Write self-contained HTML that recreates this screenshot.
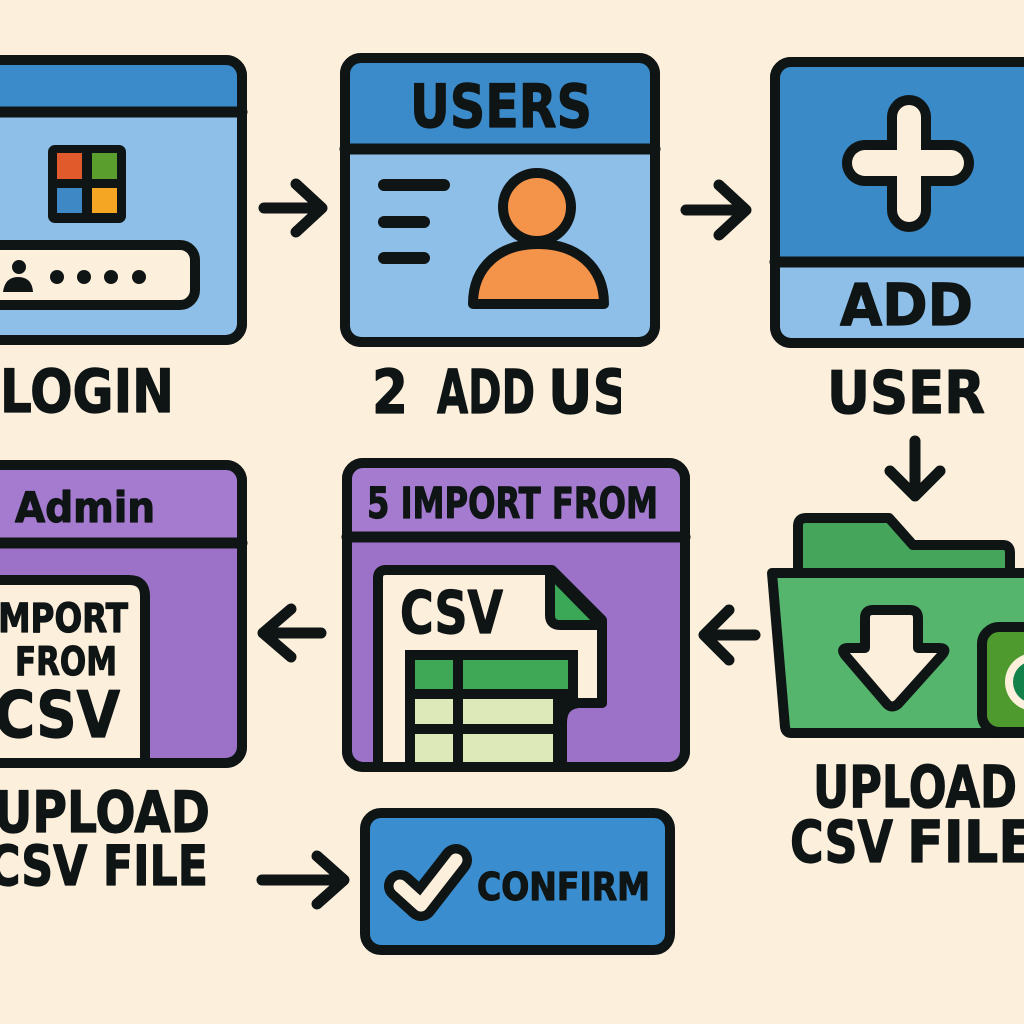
<!DOCTYPE html>
<html><head><meta charset="utf-8"><style>
html,body{margin:0;padding:0;background:#fcefdc;}
svg{display:block;}
text{font-family:"DejaVu Sans","Liberation Sans",sans-serif;font-weight:bold;fill:#0f1515;stroke:#0f1515;stroke-width:1.2;stroke-linejoin:round;}
</style></head><body>
<svg width="1024" height="1024" viewBox="0 0 1024 1024" xmlns="http://www.w3.org/2000/svg">
<defs>
<clipPath id="c2"><rect x="0" y="0" width="621" height="1024"/></clipPath>
<clipPath id="p5"><rect x="347" y="463" width="338" height="304" rx="16"/></clipPath>
<clipPath id="p4"><rect x="-30" y="465" width="272" height="298" rx="16"/></clipPath>
</defs>
<rect width="1024" height="1024" fill="#fcefdc"/>
<g stroke="#0f1515" stroke-linecap="round" stroke-linejoin="round">

<!-- Panel 1 LOGIN -->
<rect x="-30" y="60" width="272" height="280" rx="16" fill="#8dbfe8" stroke-width="10"/>
<path d="M-25,112 V73 Q-25,65 -17,65 H229 Q237,65 237,73 V112 Z" fill="#3b8ac9" stroke="none"/>
<line x1="-30" y1="112" x2="242" y2="112" stroke-width="11"/>
<rect x="-30" y="60" width="272" height="280" rx="16" fill="none" stroke-width="10"/>
<rect x="48" y="145" width="78" height="78" rx="7" fill="#0f1515" stroke="none"/>
<rect x="57" y="153" width="25" height="26" fill="#e05a2b" stroke="none"/>
<rect x="92" y="153" width="25" height="26" fill="#5a9e2e" stroke="none"/>
<rect x="57" y="188" width="25" height="25" fill="#3e88c6" stroke="none"/>
<rect x="92" y="188" width="25" height="25" fill="#f5a623" stroke="none"/>
<rect x="-20" y="245" width="215" height="60" rx="15" fill="#fcefdc" stroke-width="10"/>
<circle cx="19" cy="267" r="7" fill="#0f1515" stroke="none"/>
<path d="M3,292 Q5,277 18,277 Q32,277 33,292 Z" fill="#0f1515" stroke="none"/>
<circle cx="57" cy="277" r="7" fill="#0f1515" stroke="none"/>
<circle cx="84" cy="277" r="7" fill="#0f1515" stroke="none"/>
<circle cx="111" cy="277" r="7" fill="#0f1515" stroke="none"/>
<circle cx="139" cy="277" r="7" fill="#0f1515" stroke="none"/>

<!-- arrow 1 -->
<line x1="264" y1="208" x2="321" y2="208" stroke-width="11"/>
<polyline points="296,184 322,208 296,232" fill="none" stroke-width="11"/>

<!-- Panel 2 USERS -->
<rect x="345" y="58" width="310" height="284" rx="16" fill="#8dbfe8" stroke-width="10"/>
<path d="M350,149 V71 Q350,63 358,63 H642 Q650,63 650,71 V149 Z" fill="#3b8ac9" stroke="none"/>
<line x1="345" y1="149" x2="655" y2="149" stroke-width="11"/>
<rect x="345" y="58" width="310" height="284" rx="16" fill="none" stroke-width="10"/>
<line x1="384" y1="185" x2="444" y2="185" stroke-width="12"/>
<line x1="384" y1="222" x2="424" y2="222" stroke-width="12"/>
<line x1="384" y1="258" x2="424" y2="258" stroke-width="12"/>
<path d="M473,304 C473,266 500,244 538,244 C576,244 604,266 604,304 Z" fill="#f4934a" stroke-width="10"/>
<circle cx="537" cy="207" r="34" fill="#f4934a" stroke-width="10"/>

<!-- arrow 2 -->
<line x1="686" y1="210" x2="744" y2="210" stroke-width="11"/>
<polyline points="719,185 746,210 719,235" fill="none" stroke-width="11"/>

<!-- Panel 3 ADD -->
<rect x="775" y="62" width="300" height="281" rx="16" fill="#8dbfe8" stroke-width="10"/>
<path d="M780,262 V75 Q780,67 788,67 H1070 V262 Z" fill="#3a8ac8" stroke="none"/>
<line x1="775" y1="262" x2="1075" y2="262" stroke-width="11"/>
<rect x="775" y="62" width="300" height="281" rx="16" fill="none" stroke-width="10"/>
<line x1="909" y1="117" x2="909" y2="210" stroke-width="44"/>
<line x1="865" y1="163" x2="951" y2="163" stroke-width="46"/>
<line x1="909" y1="117" x2="909" y2="210" stroke="#fcefdc" stroke-width="24"/>
<line x1="865" y1="163" x2="951" y2="163" stroke="#fcefdc" stroke-width="26"/>

<!-- down arrow -->
<line x1="915" y1="441" x2="915" y2="494" stroke-width="11"/>
<polyline points="890,471 915,496 940,471" fill="none" stroke-width="11"/>

<!-- Panel 6 folder -->
<path d="M798,572 V526 Q798,518 806,518 H889 L913,545 H1003 Q1010,545 1010,553 V572" fill="#45a55a" stroke-width="10"/>
<path d="M772,573 H1040 V733 H791 Q786,733 785,727 Z" fill="#55b56c" stroke-width="10"/>
<path d="M865,648 V618 Q865,610 873,610 H910 Q918,610 918,618 V648 H939 Q948,648 942,655 L898,704 Q892,709 887,704 L845,655 Q840,648 848,648 Z" fill="#fcefdc" stroke-width="10"/>
<rect x="982" y="627" width="70" height="105" rx="17" fill="#4f9a2e" stroke-width="10"/>
<circle cx="1034" cy="682" r="29" fill="#fcefdc" stroke="none"/>
<circle cx="1034" cy="682" r="21" fill="#12814a" stroke="none"/>

<!-- left arrow 6->5 -->
<line x1="706" y1="635" x2="755" y2="635" stroke-width="11"/>
<polyline points="729,610 704,635 729,660" fill="none" stroke-width="11"/>

<!-- Panel 5 IMPORT -->
<rect x="347" y="463" width="338" height="304" rx="16" fill="#9c72c9" stroke-width="10"/>
<path d="M352,537 V476 Q352,468 360,468 H672 Q680,468 680,476 V537 Z" fill="#a47bcf" stroke="none"/>
<line x1="347" y1="537" x2="685" y2="537" stroke-width="11"/>
<g clip-path="url(#p5)">
<path d="M378,785 V578 Q378,570 386,570 H552 L602,620 V703 H578 Q562,705 562,722 V785 Z" fill="#fcefdc" stroke-width="10"/>
<path d="M405,650 H578 V705 Q562,707 562,722 V785 H405 Z" fill="#0f1515" stroke="none"/>
<rect x="415" y="660" width="38" height="29" fill="#3fa857" stroke="none"/>
<rect x="463" y="660" width="105" height="29" fill="#3fa857" stroke="none"/>
<rect x="415" y="699" width="38" height="25" fill="#dde9b8" stroke="none"/>
<rect x="463" y="699" width="90" height="25" fill="#dde9b8" stroke="none"/>
<rect x="415" y="734" width="38" height="40" fill="#dde9b8" stroke="none"/>
<rect x="463" y="734" width="90" height="40" fill="#dde9b8" stroke="none"/>
<path d="M602,703 H578 Q562,705 562,722 V785" fill="none" stroke-width="10"/>
<path d="M550,572 V615 Q550,625 560,625 H602 Z" fill="#3aa856" stroke-width="10"/>
</g>
<rect x="347" y="463" width="338" height="304" rx="16" fill="none" stroke-width="10"/>

<!-- left arrow 5->4 -->
<line x1="266" y1="633" x2="321" y2="633" stroke-width="11"/>
<polyline points="291,609 263,633 291,657" fill="none" stroke-width="11"/>

<!-- Panel 4 Admin -->
<rect x="-30" y="465" width="272" height="298" rx="16" fill="#9c72c9" stroke-width="10"/>
<path d="M-25,543 V478 Q-25,470 -17,470 H229 Q237,470 237,478 V543 Z" fill="#a47bcf" stroke="none"/>
<line x1="-30" y1="543" x2="242" y2="543" stroke-width="11"/>
<g clip-path="url(#p4)">
<path d="M-30,785 V580 H129 Q145,580 145,596 V785 Z" fill="#fcefdc" stroke-width="10"/>
</g>
<rect x="-30" y="465" width="272" height="298" rx="16" fill="none" stroke-width="10"/>

<!-- confirm arrow -->
<line x1="262" y1="880" x2="340" y2="880" stroke-width="11"/>
<polyline points="317,856 344,880 317,904" fill="none" stroke-width="11"/>

<!-- Confirm button -->
<rect x="365" y="813" width="305" height="137" rx="16" fill="#3a8ed0" stroke-width="10"/>
<polyline points="400,886 421,905 456,860" fill="none" stroke-width="32"/>
<polyline points="400,886 421,905 456,860" fill="none" stroke="#fcefdc" stroke-width="13"/>
</g>

<!-- Texts -->
<text x="0" y="412" font-size="60" textLength="174" lengthAdjust="spacingAndGlyphs">LOGIN</text>
<text x="410" y="127" font-size="60" textLength="182" lengthAdjust="spacingAndGlyphs">USERS</text>
<text x="372" y="413" font-size="61" textLength="36" lengthAdjust="spacingAndGlyphs">2</text>
<text x="437" y="413" font-size="61" textLength="98" lengthAdjust="spacingAndGlyphs">ADD</text>
<g clip-path="url(#c2)"><text x="548" y="413" font-size="61" textLength="84" lengthAdjust="spacingAndGlyphs">US</text></g>
<text x="840" y="325" font-size="58" textLength="133" lengthAdjust="spacingAndGlyphs">ADD</text>
<text x="827" y="413" font-size="59" textLength="158" lengthAdjust="spacingAndGlyphs">USER</text>
<text x="813" y="807" font-size="58" textLength="204" lengthAdjust="spacingAndGlyphs">UPLOAD</text>
<text x="790" y="862" font-size="58" textLength="103" lengthAdjust="spacingAndGlyphs">CSV</text>
<text x="907" y="862" font-size="58" textLength="128" lengthAdjust="spacingAndGlyphs">FILE</text>
<text x="367" y="518" font-size="43" textLength="291" lengthAdjust="spacingAndGlyphs">5 IMPORT FROM</text>
<text x="400" y="633" font-size="59" textLength="103" lengthAdjust="spacingAndGlyphs">CSV</text>
<text x="15" y="522" font-size="42" textLength="140" lengthAdjust="spacingAndGlyphs">Admin</text>
<text x="-14" y="632" font-size="40" textLength="142" lengthAdjust="spacingAndGlyphs">IMPORT</text>
<text x="15" y="675" font-size="39" textLength="102" lengthAdjust="spacingAndGlyphs">FROM</text>
<text x="-6" y="737" font-size="64" textLength="126" lengthAdjust="spacingAndGlyphs">CSV</text>
<text x="-6" y="832" font-size="57" textLength="216" lengthAdjust="spacingAndGlyphs">UPLOAD</text>
<text x="-12" y="885" font-size="55" textLength="220" lengthAdjust="spacingAndGlyphs">CSV FILE</text>
<text x="477" y="900" font-size="38" textLength="173" lengthAdjust="spacingAndGlyphs">CONFIRM</text>
</svg>
</body></html>
